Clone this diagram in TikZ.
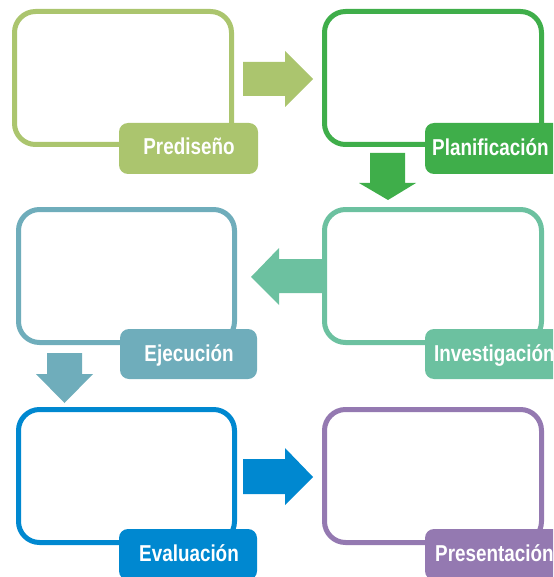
\documentclass[tikz,border=0pt]{standalone}
\usepackage{fontspec}
\setmainfont{Liberation Sans}
\newfontfamily\labelfont[FakeStretch=0.82]{Liberation Sans}
\definecolor{cpre}{HTML}{ABC56E}
\definecolor{cpla}{HTML}{3FAE4A}
\definecolor{ceje}{HTML}{6FADBB}
\definecolor{cinv}{HTML}{6CC1A0}
\definecolor{ceva}{HTML}{0088D0}
\definecolor{cpres}{HTML}{9479B1}
\tikzset{
  stagebox/.style={draw=#1, line width=5pt, rounded corners=21pt, minimum width=217pt, minimum height=133pt, inner sep=0pt, fill=white},
  tagbox/.style={fill=#1, rounded corners=9pt, inner sep=0pt, minimum height=51pt},
  tagtext/.style={text=white, font=\labelfont\bfseries\fontsize{23}{23}\selectfont, inner sep=0pt, anchor=base},
  blockarrow/.style={fill=#1, draw=none}
}
\begin{document}
\begin{tikzpicture}[x=1pt,y=-1pt]
\useasboundingbox (0,0) rectangle (553,577);
\clip (0,0) rectangle (553,577);
% stage outlines
\node[stagebox=cpre]  (b1) at (123,78) {};
\node[stagebox=cpla]  (b2) at (433,78) {};
\node[stagebox=ceje, minimum width=216pt]  (b3) at (126.5,276) {};
\node[stagebox=cinv]  (b4) at (433,276) {};
\node[stagebox=ceva, minimum width=216pt]  (b5) at (126.5,476) {};
\node[stagebox=cpres] (b6) at (433,476) {};
% label tags
\node[tagbox=cpre, minimum width=139pt]  (t1) at (188.5,148.5) {};
\node[tagbox=cpla, minimum width=140pt]  (t2) at (495,148.5) {};
\node[tagbox=ceje, minimum width=137pt, minimum height=50pt]  (t3) at (188.5,354) {};
\node[tagbox=cinv, minimum width=140pt, minimum height=50pt]  (t4) at (495,354) {};
\node[tagbox=ceva, minimum width=138pt]  (t5) at (188,554.5) {};
\node[tagbox=cpres, minimum width=140pt] (t6) at (495,554.5) {};
% label texts
\node[tagtext] (x1) at (189,155) {Prediseño};
\node[tagtext, anchor=base west] (x2) at (432,156) {Planificación};
\node[tagtext] (x3) at (189,361) {Ejecución};
\node[tagtext, anchor=base west] (x4) at (434,361) {Investigación};
\node[tagtext] (x5) at (189,561) {Evaluación};
\node[tagtext, anchor=base west] (x6) at (435,561) {Presentación};
% block arrows
\fill[blockarrow=cpre] (243,62) -- (285,62) -- (285,51) -- (313,79) -- (285,107) -- (285,96) -- (243,96) -- cycle;
\fill[blockarrow=cpla] (370,153) -- (405,153) -- (405,183) -- (416,183) -- (388,200) -- (359,183) -- (370,183) -- cycle;
\fill[blockarrow=cinv] (322,259) -- (279,259) -- (279,248) -- (251,277) -- (279,305) -- (279,293) -- (322,293) -- cycle;
\fill[blockarrow=ceje] (47,353) -- (82,353) -- (82,374) -- (93,374) -- (64.5,403) -- (36,374) -- (47,374) -- cycle;
\fill[blockarrow=ceva] (243,459) -- (285,459) -- (285,448) -- (313,477) -- (285,505) -- (285,494) -- (243,494) -- cycle;
\end{tikzpicture}
\end{document}
